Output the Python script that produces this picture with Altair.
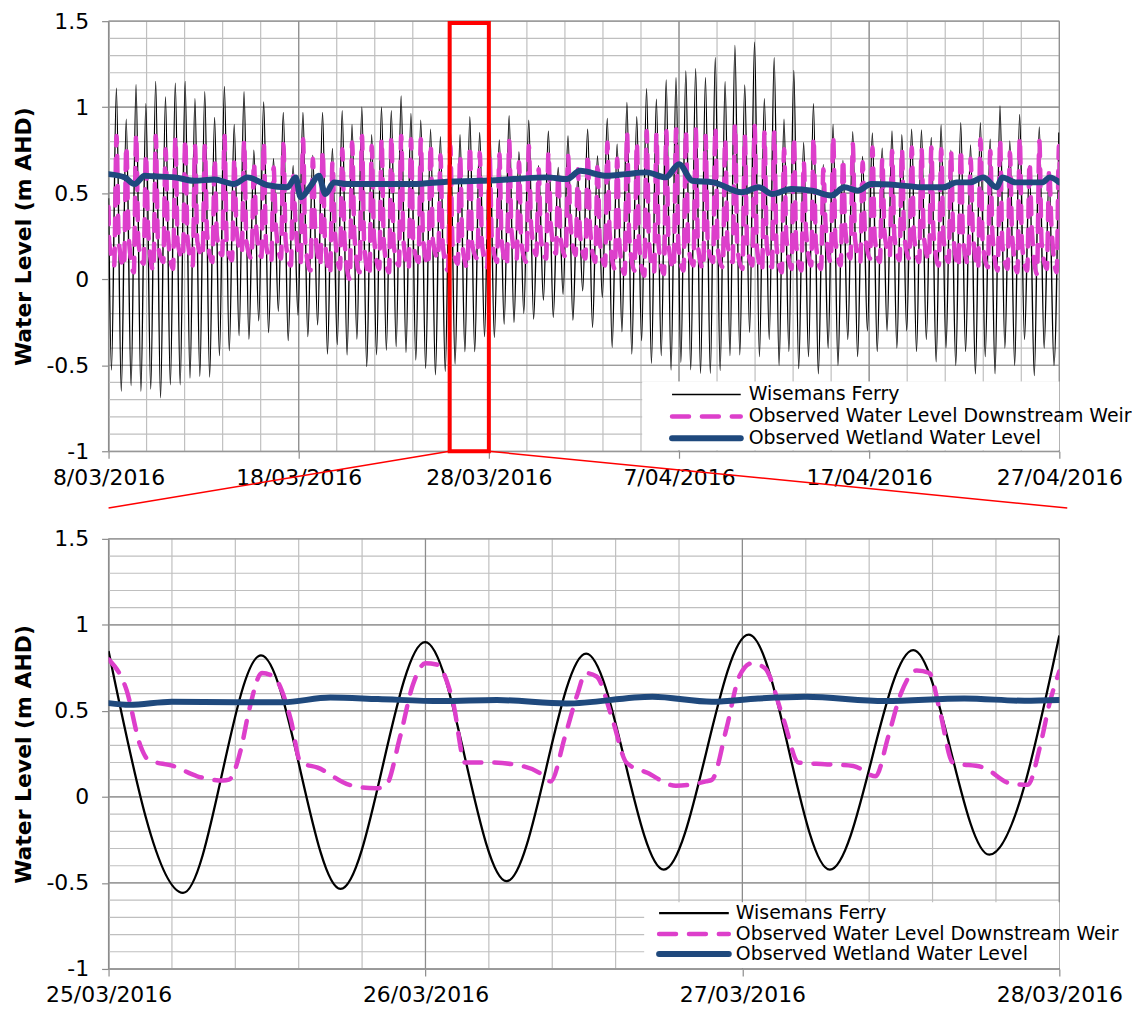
import altair as alt
import numpy as np
import pandas as pd

FONT = "DejaVu Sans"
SERIES = ["Wisemans Ferry", "Observed Water Level Downstream Weir", "Observed Wetland Water Level"]
COLORS = ["#000000", "#DD3FCB", "#1F497D"]
DASHES = [None, [17, 13], None]
CAPS = ["butt", "round", "round"]
TOP_WIDTHS = [1.4, 4.5, 6.0]
BOT_WIDTHS = [2.3, 4.5, 6.0]
GRID_MINOR = "#BFBFBF"
GRID_MAJOR = "#8C8C8C"
Y_TITLE = "Water Level  (m AHD)"
Y_TICKS = [-1.0, -0.5, 0.0, 0.5, 1.0, 1.5]
Y_GRID = [round(v, 1) for v in np.arange(-1.0, 1.501, 0.1)]

# ---------------- top panel (8/03/2016 - 27/04/2016) ----------------
TOP_START, TOP_END = "2016-03-08", "2016-04-27"
TOP_TICKS = ["2016-03-08", "2016-03-18", "2016-03-28", "2016-04-07", "2016-04-17", "2016-04-27"]
TOP_MINOR = pd.date_range(TOP_START, TOP_END, freq="2D")

# tide timing (days after 8/03/2016)
FIRST_HIGH_DAY = 0.413
TIDE_PERIOD_DAY = 0.5163
LOW_LAG_DAY = 0.256
TOP_BLACK_START = 0.47

# Wisemans Ferry high tides (one per tide)
BLACK_HIGH = [
    1.11, 0.93, 1.13, 1.02, 1.15, 1.06, 1.14, 1.15, 1.05, 1.09,
    0.94, 1.12, 0.90, 1.09, 0.75, 1.03, 0.70, 0.97, 0.66, 0.97,
    0.72, 0.97, 0.76, 0.98, 0.90, 1.00, 0.84, 1.00, 0.98, 1.065,
    0.963, 0.924, 0.872, 0.828, 0.90, 0.84, 0.944, 0.853, 0.95, 0.81,
    0.95, 0.74, 0.924, 0.66, 0.86, 0.65, 0.833, 0.60, 0.872, 0.717,
    0.934, 0.785, 1.027, 0.944, 1.108, 1.046, 1.158, 1.171, 1.21, 1.224,
    1.171, 1.287, 1.148, 1.359, 1.129, 1.378, 1.05, 1.287, 0.93, 1.214,
    0.795, 1.02, 0.665, 0.90, 0.69, 0.858, 0.713, 0.85, 0.762, 0.862,
    0.84, 0.872, 0.868, 0.824, 0.897, 0.75, 0.91, 0.78, 0.91, 0.814,
    1.007, 0.804, 0.958, 0.66, 0.885, 0.61, 0.853,
]
# Wisemans Ferry low tides (the low before each high)
BLACK_LOW = [
    -0.528, -0.651, -0.618, -0.651, -0.638, -0.69, -0.614, -0.614, -0.574, -0.564,
    -0.568, -0.444, -0.415, -0.328, -0.348, -0.242, -0.31, -0.187, -0.357, -0.209,
    -0.334, -0.265, -0.435, -0.38, -0.44, -0.348, -0.508, -0.439, -0.412, -0.392,
    -0.425, -0.47, -0.518, -0.555, -0.535, -0.493, -0.421, -0.421, -0.334, -0.338,
    -0.261, -0.251, -0.199, -0.232, -0.122, -0.222, -0.087, -0.238, -0.068, -0.28,
    -0.106, -0.396, -0.305, -0.435, -0.357, -0.489, -0.444, -0.528, -0.483, -0.526,
    -0.547, -0.547, -0.531, -0.444, -0.44, -0.309, -0.45, -0.35, -0.5, -0.42,
    -0.52, -0.45, -0.55, -0.4, -0.5, -0.35, -0.45, -0.3, -0.42, -0.3,
    -0.4, -0.3, -0.42, -0.35, -0.48, -0.4, -0.5, -0.42, -0.55, -0.45,
    -0.55, -0.4, -0.5, -0.35, -0.56, -0.4, -0.5,
]
# Downstream weir: peak, post-ebb plateau and low, per tide
MAG_PEAK_LAG, MAG_MID_LAG, MAG_LOW_LAG = 0.005, 0.125, 0.40
MAG_START_DAY = [0.0, 0.03, 0.297]
MAG_START_VAL = [0.42, 0.22, 0.08]
MAG_HIGH = [
    0.833, 0.775, 0.843, 0.727, 0.833, 0.756, 0.824, 0.814, 0.775, 0.775,
    0.698, 0.833, 0.698, 0.804, 0.68, 0.795, 0.65, 0.785, 0.60, 0.814,
    0.70, 0.746, 0.68, 0.756, 0.795, 0.833, 0.775, 0.814, 0.833, 0.833,
    0.814, 0.814, 0.785, 0.72, 0.777, 0.72, 0.777, 0.735, 0.73, 0.727,
    0.804, 0.68, 0.775, 0.64, 0.737, 0.62, 0.717, 0.64, 0.727, 0.68,
    0.795, 0.70, 0.853, 0.795, 0.862, 0.843, 0.862, 0.872, 0.862, 0.872,
    0.833, 0.88, 0.814, 0.90, 0.833, 0.89, 0.853, 0.853, 0.756, 0.824,
    0.68, 0.824, 0.64, 0.833, 0.70, 0.785, 0.68, 0.766, 0.70, 0.746,
    0.756, 0.766, 0.756, 0.766, 0.756, 0.746, 0.756, 0.70, 0.814, 0.746,
    0.814, 0.737, 0.824, 0.68, 0.804, 0.64, 0.775,
]
MAG_MID = [
    0.22, 0.26, 0.21, 0.27, 0.2, 0.26, 0.21, 0.24, 0.22, 0.26,
    0.25, 0.21, 0.28, 0.22, 0.3, 0.2, 0.31, 0.22, 0.33, 0.21,
    0.3, 0.23, 0.28, 0.22, 0.25, 0.2, 0.24, 0.21, 0.2, 0.22,
    0.21, 0.23, 0.22, 0.2, 0.2, 0.2, 0.2, 0.2, 0.24, 0.22,
    0.28, 0.21, 0.31, 0.23, 0.32, 0.24, 0.33, 0.25, 0.3, 0.22,
    0.27, 0.2, 0.24, 0.2, 0.22, 0.19, 0.2, 0.19, 0.2, 0.19,
    0.2, 0.18, 0.21, 0.18, 0.21, 0.18, 0.2, 0.19, 0.24, 0.2,
    0.28, 0.21, 0.31, 0.22, 0.29, 0.23, 0.28, 0.24, 0.27, 0.25,
    0.26, 0.25, 0.25, 0.25, 0.24, 0.26, 0.23, 0.27, 0.21, 0.25,
    0.2, 0.25, 0.2, 0.29, 0.21, 0.31, 0.22,
]
MAG_LOW = [
    0.07, 0.04, 0.09, 0.05, 0.1, 0.06, 0.12, 0.08, 0.13, 0.1,
    0.14, 0.11, 0.15, 0.12, 0.13, 0.1, 0.12, 0.08, 0.1, 0.05,
    0.08, 0.03, 0.06, 0.0, 0.04, 0.02, 0.06, 0.04, 0.08, 0.06,
    0.1, 0.08, 0.12, 0.05, 0.09, 0.065, 0.12, 0.07, 0.1, 0.08,
    0.12, 0.1, 0.14, 0.12, 0.15, 0.13, 0.14, 0.12, 0.1, 0.08,
    0.06, 0.03, 0.05, 0.02, 0.04, 0.03, 0.06, 0.05, 0.08, 0.06,
    0.1, 0.07, 0.1, 0.06, 0.08, 0.05, 0.07, 0.04, 0.06, 0.05,
    0.08, 0.06, 0.1, 0.08, 0.12, 0.1, 0.12, 0.1, 0.13, 0.11,
    0.12, 0.1, 0.11, 0.08, 0.1, 0.07, 0.09, 0.06, 0.07, 0.05,
    0.06, 0.04, 0.05, 0.03, 0.06, 0.04, 0.05,
]
# Wetland level (days after 8/03/2016, m AHD)
BLUE_TOP_DAY = [0, 0.85, 1.37, 1.9, 2.4, 3.47, 4.5, 5.56, 6.6, 7.3, 8.35, 9.4, 9.84, 10.1, 10.63,
                11.06, 11.4, 11.85, 12.55, 14.3, 16.0, 17.8, 19.5, 21.3, 23.04, 24.1, 24.8, 26.2,
                27.2, 28.3, 29.3, 30.0, 30.7, 31.8, 33.3, 34.2, 34.9, 35.9, 36.99, 38.0, 38.7,
                39.4, 40.1, 41.5, 42.9, 43.9, 44.6, 45.3, 46.0, 46.7, 47.0, 47.7, 49.1, 49.5, 50.0]
BLUE_TOP_VAL = [0.611, 0.592, 0.553, 0.601, 0.598, 0.592, 0.572, 0.58, 0.553, 0.592, 0.547, 0.534,
                0.592, 0.476, 0.543, 0.601, 0.495, 0.563, 0.553, 0.553, 0.553, 0.567, 0.572, 0.582,
                0.592, 0.582, 0.63, 0.601, 0.611, 0.621, 0.592, 0.669, 0.572, 0.563, 0.505, 0.534,
                0.495, 0.524, 0.515, 0.486, 0.534, 0.515, 0.553, 0.547, 0.534, 0.534, 0.563, 0.563,
                0.592, 0.534, 0.592, 0.563, 0.563, 0.592, 0.563]

# red zoom box and links
RED_BOX_T = ["2016-03-25T22:30", "2016-03-28T00:00"]
RED_BOX_V = [1.49, -1.0]
RED_LINK_FROM_T = ["2016-03-25T22:30", "2016-03-28T00:00"]
RED_LINK_TO_T = ["2016-03-08T00:00", "2016-04-27T10:00"]
RED_LINK_FROM_V = [-1.0, -1.0]
RED_LINK_TO_V = [-1.33, -1.33]

# ---------------- bottom panel (25/03/2016 - 28/03/2016) ----------------
BOT_START, BOT_END = "2016-03-25", "2016-03-28"
BOT_TICKS = ["2016-03-25", "2016-03-26", "2016-03-27", "2016-03-28"]
BOT_MINOR = pd.date_range(BOT_START, BOT_END, freq="288min")

BOT_BLACK_DAY = [0.0, 0.235, 0.481, 0.732, 0.999, 1.256, 1.507, 1.752, 2.02, 2.276, 2.539, 2.779, 3.0]
BOT_BLACK_VAL = [0.848, -0.558, 0.823, -0.535, 0.90, -0.49, 0.833, -0.423, 0.943, -0.423, 0.853, -0.336, 0.938]
BOT_MAG_DAY = [0.0, 0.057, 0.1, 0.126, 0.204, 0.28, 0.361, 0.38, 0.418, 0.443, 0.484, 0.52, 0.575,
               0.606, 0.66, 0.76, 0.842, 0.873, 0.92, 0.96, 1.0, 1.035, 1.087, 1.125, 1.203, 1.304,
               1.36, 1.395, 1.44, 1.48, 1.505, 1.54, 1.59, 1.634, 1.7, 1.79, 1.885, 1.904, 1.95,
               1.99, 2.03, 2.07, 2.13, 2.177, 2.26, 2.35, 2.42, 2.46, 2.5, 2.55, 2.59, 2.623, 2.664,
               2.762, 2.843, 2.9, 2.94, 2.97, 3.0]
BOT_MAG_VAL = [0.80, 0.62, 0.3, 0.215, 0.18, 0.12, 0.095, 0.10, 0.28, 0.5, 0.72, 0.70, 0.45, 0.2,
               0.17, 0.07, 0.05, 0.06, 0.35, 0.65, 0.777, 0.77, 0.55, 0.2, 0.2, 0.18, 0.14, 0.09,
               0.35, 0.6, 0.72, 0.70, 0.45, 0.2, 0.14, 0.065, 0.09, 0.10, 0.4, 0.7, 0.777, 0.75,
               0.45, 0.2, 0.19, 0.18, 0.12, 0.35, 0.6, 0.735, 0.72, 0.5, 0.2, 0.17, 0.08, 0.07, 0.3,
               0.55, 0.73]
BOT_BLUE_DAY = [0, 0.066, 0.2, 0.4, 0.55, 0.7, 0.85, 1.05, 1.225, 1.445, 1.716, 1.904, 2.05, 2.2,
                2.45, 2.7, 2.89, 3.0]
BOT_BLUE_VAL = [0.545, 0.535, 0.553, 0.55, 0.55, 0.578, 0.569, 0.557, 0.563, 0.543, 0.582, 0.553,
                0.572, 0.582, 0.557, 0.572, 0.559, 0.563]

# legend layout (pixels inside each plot area)
PLOT_W, PLOT_H = 955, 432
LEGEND_FONT_SIZE = 19
TOP_LEGEND = dict(box=(536, PLOT_W, 362, 431), sym=(566, 635), text=643, rows=(375, 397, 419))
BOT_LEGEND = dict(box=(538, PLOT_W, 365, 431), sym=(553, 623), text=630, rows=(376, 397, 417))

assert len(BLACK_HIGH) == len(BLACK_LOW) == len(MAG_HIGH) == len(MAG_MID) == len(MAG_LOW) == 97
assert len(BLUE_TOP_DAY) == len(BLUE_TOP_VAL)
assert len(BOT_MAG_DAY) == len(BOT_MAG_VAL) and len(BOT_BLUE_DAY) == len(BOT_BLUE_VAL)


def to_time(start, days):
    return pd.Timestamp(start) + pd.to_timedelta(np.asarray(days, dtype=float), unit="D")


def dtobj(s):
    ts = pd.Timestamp(s)
    return alt.DateTime(year=ts.year, month=ts.month, date=ts.day, hours=ts.hour, minutes=ts.minute)


# build top series
black_days, black_vals = [0.0], [TOP_BLACK_START]
mag_days, mag_vals = list(MAG_START_DAY), list(MAG_START_VAL)
for k in range(len(BLACK_HIGH)):
    h = FIRST_HIGH_DAY + k * TIDE_PERIOD_DAY
    black_days += [h - TIDE_PERIOD_DAY + LOW_LAG_DAY, h]
    black_vals += [BLACK_LOW[k], BLACK_HIGH[k]]
    mag_days += [h + MAG_PEAK_LAG, h + MAG_MID_LAG, h + MAG_LOW_LAG]
    mag_vals += [MAG_HIGH[k], MAG_MID[k], MAG_LOW[k]]

top_frames = [
    pd.DataFrame({"t": to_time(TOP_START, black_days), "v": black_vals}),
    pd.DataFrame({"t": to_time(TOP_START, mag_days), "v": mag_vals}),
    pd.DataFrame({"t": to_time(TOP_START, BLUE_TOP_DAY), "v": BLUE_TOP_VAL}),
]
bot_frames = [
    pd.DataFrame({"t": to_time(BOT_START, BOT_BLACK_DAY), "v": BOT_BLACK_VAL}),
    pd.DataFrame({"t": to_time(BOT_START, BOT_MAG_DAY), "v": BOT_MAG_VAL}),
    pd.DataFrame({"t": to_time(BOT_START, BOT_BLUE_DAY), "v": BOT_BLUE_VAL}),
]


def make_panel(frames, widths, start, end, major, minor, legend, with_zoom):
    xscale = alt.Scale(domain=[dtobj(start), dtobj(end)], nice=False)
    yscale = alt.Scale(domain=[-1.0, 1.5], nice=False, zero=False)
    xaxis = alt.Axis(values=[dtobj(v) for v in major], format="%-d/%m/%Y", title=None, grid=False,
                     labelFont=FONT, labelFontSize=22, labelColor="black", labelPadding=9,
                     labelFlush=False, labelOverlap=False, tickSize=7, tickColor=GRID_MAJOR,
                     tickWidth=1.2, domainColor=GRID_MAJOR, domainWidth=1.2)
    yaxis = alt.Axis(values=Y_TICKS, labelExpr="'' + datum.value", title=Y_TITLE, grid=False,
                     labelFont=FONT, labelFontSize=22, labelColor="black", labelPadding=13,
                     tickSize=7, tickColor=GRID_MAJOR, tickWidth=1.2, domainColor=GRID_MAJOR,
                     domainWidth=1.2, titleFont=FONT, titleFontSize=22, titleFontWeight="bold",
                     titleColor="black", titlePadding=10)

    def X(f):
        return alt.X(f"{f}:T", scale=xscale, axis=xaxis)

    def Y(f):
        return alt.Y(f"{f}:Q", scale=yscale, axis=yaxis)

    layers = [
        alt.Chart(pd.DataFrame({"v": Y_GRID})).mark_rule(color=GRID_MINOR, strokeWidth=1.2).encode(y=Y("v")),
        alt.Chart(pd.DataFrame({"t": pd.to_datetime(minor)})).mark_rule(color=GRID_MINOR, strokeWidth=1.2).encode(x=X("t")),
        alt.Chart(pd.DataFrame({"v": Y_TICKS})).mark_rule(color=GRID_MAJOR, strokeWidth=1.2).encode(y=Y("v")),
        alt.Chart(pd.DataFrame({"t": pd.to_datetime(major)})).mark_rule(color=GRID_MAJOR, strokeWidth=1.2).encode(x=X("t")),
    ]
    for i, df in enumerate(frames):
        kw = dict(color=COLORS[i], strokeWidth=widths[i], interpolate="monotone", clip=True,
                  strokeCap=CAPS[i], strokeJoin="round")
        if DASHES[i]:
            kw["strokeDash"] = DASHES[i]
        layers.append(alt.Chart(df).mark_line(**kw).encode(x=X("t"), y=Y("v")))

    if with_zoom:
        box = pd.DataFrame({"x0": [pd.Timestamp(RED_BOX_T[0])], "x1": [pd.Timestamp(RED_BOX_T[1])],
                            "y0": [RED_BOX_V[0]], "y1": [RED_BOX_V[1]]})
        layers.append(alt.Chart(box).mark_rect(filled=False, stroke="red", strokeWidth=4).encode(
            x=X("x0"), x2="x1:T", y=Y("y0"), y2="y1:Q"))
        links = pd.DataFrame({"x0": pd.to_datetime(RED_LINK_FROM_T), "x1": pd.to_datetime(RED_LINK_TO_T),
                              "y0": RED_LINK_FROM_V, "y1": RED_LINK_TO_V})
        layers.append(alt.Chart(links).mark_rule(color="red", strokeWidth=1.5, clip=False).encode(
            x=X("x0"), x2="x1:T", y=Y("y0"), y2="y1:Q"))

    bx0, bx1, by0, by1 = legend["box"]
    layers.append(alt.Chart(pd.DataFrame({"s": ["legend"]})).mark_rect(color="white").encode(
        x=alt.value(bx0), x2=alt.value(bx1), y=alt.value(by0), y2=alt.value(by1)))
    for i, name in enumerate(SERIES):
        kw = dict(color=COLORS[i], strokeWidth=widths[i], strokeCap=CAPS[i])
        if DASHES[i]:
            kw["strokeDash"] = DASHES[i]
        one = pd.DataFrame({"s": [name]})
        layers.append(alt.Chart(one).mark_rule(**kw).encode(
            x=alt.value(legend["sym"][0]), x2=alt.value(legend["sym"][1]), y=alt.value(legend["rows"][i])))
        layers.append(alt.Chart(one).mark_text(align="left", baseline="middle", font=FONT,
                                               fontSize=LEGEND_FONT_SIZE, color="black").encode(
            x=alt.value(legend["text"]), y=alt.value(legend["rows"][i]), text="s:N"))

    return alt.layer(*layers).properties(width=PLOT_W, height=PLOT_H)


top = make_panel(top_frames, TOP_WIDTHS, TOP_START, TOP_END, TOP_TICKS, TOP_MINOR, TOP_LEGEND, True)
bottom = make_panel(bot_frames, BOT_WIDTHS, BOT_START, BOT_END, BOT_TICKS, BOT_MINOR, BOT_LEGEND, False)

chart = (
    alt.vconcat(top, bottom, spacing=19)
    .resolve_scale(x="independent", y="independent")
    .properties(padding={"left": 5, "top": 0, "right": 0, "bottom": 0}, background="white")
    .configure_view(stroke=None)
)

chart.save("out.html", embed_options={"renderer": "svg", "actions": False})
